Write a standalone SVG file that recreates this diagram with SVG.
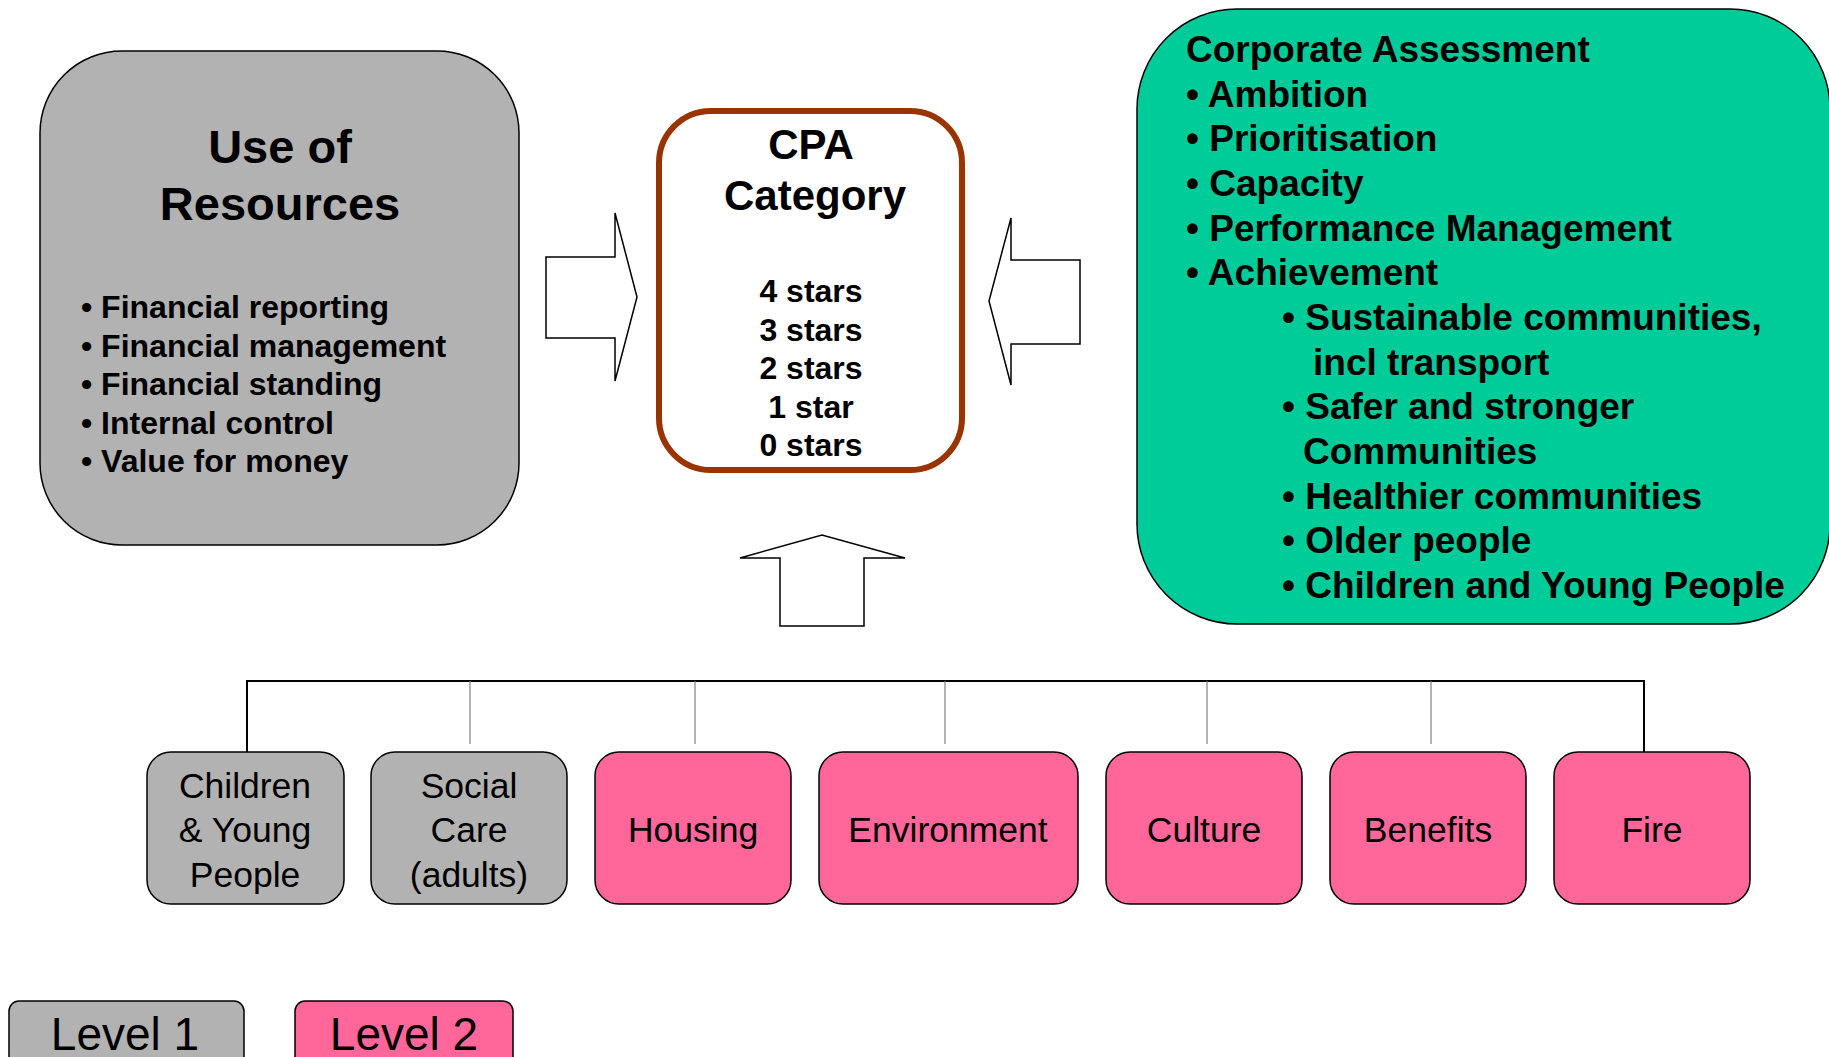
<svg xmlns="http://www.w3.org/2000/svg" width="1829" height="1057" viewBox="0 0 1829 1057">
<style>
.b{font-family:"Liberation Sans",Arial,sans-serif;font-weight:bold;fill:#000}
.r{font-family:"Liberation Sans",Arial,sans-serif;fill:#000}
.gray{fill:#B2B2B2;stroke:#000;stroke-width:1.5}
.pink{fill:#FF6699;stroke:#000;stroke-width:1.5}
.arrow{fill:#fff;stroke:#000;stroke-width:1.5}
</style>
<rect width="1829" height="1057" fill="#fff"/>
<g id="use-of-resources">
<rect class="gray" x="40" y="51" width="479" height="494" rx="82" ry="82"/>
<text class="b" font-size="47" text-anchor="middle" x="280" y="163">Use of</text>
<text class="b" font-size="47" text-anchor="middle" x="280" y="220">Resources</text>
<text class="b" font-size="32" x="81"><tspan x="81" y="318">• Financial reporting</tspan><tspan x="81" y="357">• Financial management</tspan><tspan x="81" y="395">• Financial standing</tspan><tspan x="81" y="434">• Internal control</tspan><tspan x="81" y="472">• Value for money</tspan></text>
</g>
<g id="cpa-category">
<rect x="659" y="111" width="303" height="359" rx="52" ry="52" fill="#fff" stroke="#993300" stroke-width="6"/>
<text class="b" font-size="42" text-anchor="middle" x="811" y="159">CPA</text>
<text class="b" font-size="42" text-anchor="middle" x="815" y="210">Category</text>
<text class="b" font-size="32" text-anchor="middle"><tspan x="811" y="302">4 stars</tspan><tspan x="811" y="341">3 stars</tspan><tspan x="811" y="379">2 stars</tspan><tspan x="811" y="418">1 star</tspan><tspan x="811" y="456">0 stars</tspan></text>
</g>
<g id="corporate-assessment">
<rect x="1137" y="9" width="693" height="615" rx="100" ry="100" fill="#00CC99" stroke="#000" stroke-width="1.5"/>
<text class="b" font-size="37"><tspan x="1186" y="62">Corporate Assessment</tspan><tspan x="1186" y="107">• Ambition</tspan><tspan x="1186" y="151">• Prioritisation</tspan><tspan x="1186" y="196">• Capacity</tspan><tspan x="1186" y="241">• Performance Management</tspan><tspan x="1186" y="285">• Achievement</tspan><tspan x="1282" y="330">• Sustainable communities,</tspan><tspan x="1313" y="375">incl transport</tspan><tspan x="1282" y="419">• Safer and stronger</tspan><tspan x="1303" y="464">Communities</tspan><tspan x="1282" y="509">• Healthier communities</tspan><tspan x="1282" y="553">• Older people</tspan><tspan x="1282" y="598">• Children and Young People</tspan></text>
</g>
<g id="arrows">
<polygon class="arrow" points="546,257 615,257 615,213 637,297 615,381 615,338 546,338"/>
<polygon class="arrow" points="1080,260 1011,260 1011,218 989,301 1011,385 1011,344 1080,344"/>
<polygon class="arrow" points="780,626 780,558 740,558 822,535 905,558 864,558 864,626"/>
</g>
<g id="connectors" fill="none">
<polyline points="247,752 247,681 1644,681 1644,752" stroke="#000" stroke-width="2"/>
<g stroke="#808080" stroke-width="1.2">
<line x1="470" y1="681" x2="470" y2="744"/>
<line x1="695" y1="681" x2="695" y2="744"/>
<line x1="945" y1="681" x2="945" y2="744"/>
<line x1="1207" y1="681" x2="1207" y2="744"/>
<line x1="1431" y1="681" x2="1431" y2="744"/>
</g>
</g>
<g id="children">
<rect class="gray" x="147" y="752" width="197" height="152" rx="24"/>
<text class="r" font-size="35.5" text-anchor="middle"><tspan x="245" y="798">Children</tspan><tspan x="245" y="842">&amp; Young</tspan><tspan x="245" y="887">People</tspan></text>
</g>
<g id="social-care">
<rect class="gray" x="371" y="752" width="196" height="152" rx="24"/>
<text class="r" font-size="35.5" text-anchor="middle"><tspan x="469" y="798">Social</tspan><tspan x="469" y="842">Care</tspan><tspan x="469" y="887">(adults)</tspan></text>
</g>
<g id="housing">
<rect class="pink" x="595" y="752" width="196" height="152" rx="24"/>
<text class="r" font-size="35.5" text-anchor="middle" x="693" y="842">Housing</text>
</g>
<g id="environment">
<rect class="pink" x="819" y="752" width="259" height="152" rx="24"/>
<text class="r" font-size="35.5" text-anchor="middle" x="948" y="842">Environment</text>
</g>
<g id="culture">
<rect class="pink" x="1106" y="752" width="196" height="152" rx="24"/>
<text class="r" font-size="35.5" text-anchor="middle" x="1204" y="842">Culture</text>
</g>
<g id="benefits">
<rect class="pink" x="1330" y="752" width="196" height="152" rx="24"/>
<text class="r" font-size="35.5" text-anchor="middle" x="1428" y="842">Benefits</text>
</g>
<g id="fire">
<rect class="pink" x="1554" y="752" width="196" height="152" rx="24"/>
<text class="r" font-size="35.5" text-anchor="middle" x="1652" y="842">Fire</text>
</g>
<g id="legend-level1">
<rect class="gray" x="9" y="1001" width="235" height="70" rx="10"/>
<text class="r" font-size="46" text-anchor="middle" x="125" y="1050">Level 1</text>
</g>
<g id="legend-level2">
<rect class="pink" x="295" y="1001" width="218" height="70" rx="10"/>
<text class="r" font-size="46" text-anchor="middle" x="404" y="1050">Level 2</text>
</g>
</svg>
